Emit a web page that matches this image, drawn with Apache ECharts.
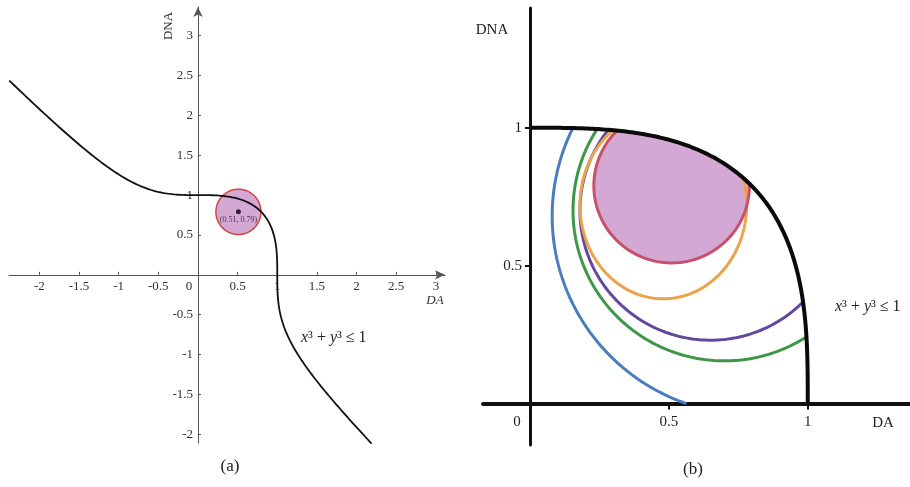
<!DOCTYPE html>
<html>
<head>
<meta charset="utf-8">
<script src="https://cdn.jsdelivr.net/npm/echarts@6/dist/echarts.min.js"></script>
<style>
  html, body { margin: 0; padding: 0; background: #fff; }
  #chart { width: 910px; height: 487px; }
</style>
</head>
<body>
<div id="chart"></div>
<script>
// ---------- data ----------
// Panel (a): boundary x^3 + y^3 = 1 drawn between these DA values, plus one disc
const curveAExtent = [-2.38, 2.19];
const discACentre = [0.51, 0.79];
const discARadius = 0.284;
const ticksAx = [-2, -1.5, -1, -0.5, 0, 0.5, 1, 1.5, 2, 2.5, 3];
const ticksAy = [-2, -1.5, -1, -0.5, 0.5, 1, 1.5, 2, 2.5, 3];

// Panel (b): first-quadrant boundary and rings kept inside the feasible region
const curveBExtent = [0, 1];
const ticksBx = [0, 0.5, 1];
const ticksBy = [0.5, 1];
const ringCentreX = [0.80, 0.70, 0.65, 0.48, 0.51];
const ringCentreY = [0.68, 0.70, 0.70, 0.72, 0.79];
const ringRadiusX = [0.72, 0.545, 0.47, 0.30, 0.28];
const ringRadiusY = [0.72, 0.545, 0.47, 0.34, 0.28];
const ringColour = ['#4a7dbd', '#3f9548', '#60499e', '#eba34c', '#c9506b'];
const filledRing = 4; // index of the shaded disc

const SERIF = '"Liberation Serif", "DejaVu Serif", serif';
const DISC_FILL = '#d4a8d4';

// ---------- geometry helpers ----------
// point of x^3 + y^3 = 1 parameterised by v = x - y
function curvePoint(v) {
  const s = Math.sqrt(4 + Math.pow(v, 6));
  const u = Math.cbrt(2 + s) + Math.cbrt(2 - s);
  return [(u + v) / 2, (u - v) / 2];
}
function curveBetween(x0, x1) {
  const v0 = x0 - Math.cbrt(1 - x0 * x0 * x0);
  const v1 = x1 - Math.cbrt(1 - x1 * x1 * x1);
  const n = 1200, pts = [];
  for (let i = 0; i <= n; i++) pts.push(curvePoint(v0 + (v1 - v0) * i / n));
  return pts;
}
function inRegion(x, y) {
  return x >= 0 && y >= 0 && x * x * x + y * y * y <= 1;
}
function ringPoints(cx, cy, rx, ry) {
  const n = 360, pts = [];
  for (let i = 0; i < n; i++) {
    const a = 2 * Math.PI * i / n;
    pts.push([cx + rx * Math.cos(a), cy + ry * Math.sin(a)]);
  }
  return pts;
}
// parts of a ring that lie inside the region, as separate runs
function ringRuns(cx, cy, rx, ry) {
  const n = 1440;
  const at = k => {
    const a = 2 * Math.PI * k / n;
    return [cx + rx * Math.cos(a), cy + ry * Math.sin(a)];
  };
  let k0 = -1;
  for (let k = 0; k < n; k++) { const p = at(k); if (!inRegion(p[0], p[1])) { k0 = k; break; } }
  if (k0 < 0) { const all = []; for (let k = 0; k <= n; k++) all.push(at(k)); return [all]; }
  const runs = []; let cur = null;
  for (let k = k0; k <= k0 + n; k++) {
    const p = at(k);
    if (inRegion(p[0], p[1])) { if (!cur) { cur = []; runs.push(cur); } cur.push(p); }
    else cur = null;
  }
  return runs;
}
// disc intersected with the region (both convex), traced radially from the centre
function clippedDisc(cx, cy, rx, ry) {
  const n = 720, pts = [];
  for (let i = 0; i < n; i++) {
    const a = 2 * Math.PI * i / n, c = rx * Math.cos(a), s = ry * Math.sin(a);
    let t = 1;
    if (!inRegion(cx + c, cy + s)) {
      let lo = 0, hi = 1;
      for (let j = 0; j < 40; j++) {
        const m = (lo + hi) / 2;
        if (inRegion(cx + m * c, cy + m * s)) lo = m; else hi = m;
      }
      t = lo;
    }
    pts.push([cx + t * c, cy + t * s]);
  }
  return pts;
}

// ---------- series ----------
const series = [];

// (a) disc with outline
const discAPoints = ringPoints(discACentre[0], discACentre[1], discARadius, discARadius);
series.push({
  type: 'custom', xAxisIndex: 0, yAxisIndex: 0, z: 1,
  data: [discACentre],
  renderItem: (params, api) => ({
    type: 'polygon',
    shape: { points: discAPoints.map(p => api.coord(p)) },
    style: { fill: DISC_FILL, stroke: '#d2463f', lineWidth: 1.5 }
  })
});
// (a) boundary curve
series.push({
  type: 'line', xAxisIndex: 0, yAxisIndex: 0, z: 2,
  data: curveBetween(curveAExtent[0], curveAExtent[1]),
  showSymbol: false, symbol: 'none', silent: true,
  lineStyle: { color: '#111', width: 1.8 }
});
// (a) centre point
series.push({
  type: 'scatter', xAxisIndex: 0, yAxisIndex: 0, z: 3,
  data: [discACentre], symbolSize: 5,
  itemStyle: { color: '#000' },
  label: {
    show: true, position: 'bottom', distance: 2,
    formatter: p => '(' + p.value[0] + ', ' + p.value[1] + ')',
    fontFamily: SERIF, fontSize: 8, color: '#222'
  }
});

// (b) shaded disc
const discBPoints = clippedDisc(ringCentreX[filledRing], ringCentreY[filledRing],
                                ringRadiusX[filledRing], ringRadiusY[filledRing]);
series.push({
  type: 'custom', xAxisIndex: 1, yAxisIndex: 1, z: 1,
  data: [[ringCentreX[filledRing], ringCentreY[filledRing]]],
  renderItem: (params, api) => ({
    type: 'polygon',
    shape: { points: discBPoints.map(p => api.coord(p)) },
    style: { fill: DISC_FILL }
  })
});
// (b) ring arcs inside the region
ringCentreX.forEach((cx, i) => {
  ringRuns(cx, ringCentreY[i], ringRadiusX[i], ringRadiusY[i]).forEach(run => {
    series.push({
      type: 'line', xAxisIndex: 1, yAxisIndex: 1, z: 3,
      data: run, showSymbol: false, symbol: 'none', silent: true,
      lineStyle: { color: ringColour[i], width: 3 }
    });
  });
});
// (b) boundary curve
series.push({
  type: 'line', xAxisIndex: 1, yAxisIndex: 1, z: 4,
  data: curveBetween(curveBExtent[0], curveBExtent[1]),
  showSymbol: false, symbol: 'none', silent: true,
  lineStyle: { color: '#0a0a0a', width: 4 }
});

// ---------- axes ----------
// grid boxes; the axes are shifted onto the zero lines with an offset
const gridA = { left: 9, top: 7, width: 436, height: 436 };
const gridB = { left: 483, top: 8, width: 427, height: 437 };
const xExtA = [-2.383, 3.115], yExtA = [-2.11, 3.36];
const xExtB = [-0.169, 1.368], yExtB = [-0.15, 1.434];
const zeroOffsetX = (g, ext) => -g.height * (0 - ext[0]) / (ext[1] - ext[0]);
const zeroOffsetY = (g, ext) => -g.width * (0 - ext[0]) / (ext[1] - ext[0]);

const labelA = { fontFamily: SERIF, fontSize: 13, color: '#333' };
const labelB = { fontFamily: SERIF, fontSize: 15, color: '#222' };

const option = {
  animation: false,
  backgroundColor: '#fff',
  grid: [
    Object.assign({ containLabel: false, outerBoundsMode: 'none' }, gridA),
    Object.assign({ containLabel: false, outerBoundsMode: 'none' }, gridB)
  ],
  xAxis: [
    {
      gridIndex: 0, type: 'value', min: xExtA[0], max: xExtA[1],
      position: 'bottom', offset: zeroOffsetX(gridA, yExtA),
      splitLine: { show: false },
      axisLine: { onZero: false, symbol: ['none', 'arrow'], symbolSize: [7, 10],
                  lineStyle: { color: '#555', width: 1 } },
      axisTick: { inside: true, length: 3, customValues: ticksAx.filter(v => v !== 0),
                  lineStyle: { color: '#555', width: 1 } },
      axisLabel: Object.assign({}, labelA, {
        customValues: ticksAx, margin: 5,
        formatter: v => v === 0 ? '{z|0}' : String(v),
        rich: { z: Object.assign({}, labelA, { padding: [0, 18, 0, 0] }) }
      })
    },
    {
      gridIndex: 1, type: 'value', min: xExtB[0], max: xExtB[1],
      position: 'bottom', offset: zeroOffsetX(gridB, yExtB),
      splitLine: { show: false },
      axisLine: { onZero: false, lineStyle: { color: '#111', width: 4 } },
      axisTick: { inside: false, length: 6, customValues: [0.5, 1],
                  lineStyle: { color: '#111', width: 2 } },
      axisLabel: Object.assign({}, labelB, {
        customValues: ticksBx, margin: 11,
        formatter: v => v === 0 ? '{z|0}' : String(v),
        rich: { z: Object.assign({}, labelB, { padding: [0, 26, 0, 0] }) }
      })
    }
  ],
  yAxis: [
    {
      gridIndex: 0, type: 'value', min: yExtA[0], max: yExtA[1],
      position: 'left', offset: zeroOffsetY(gridA, xExtA),
      splitLine: { show: false },
      axisLine: { onZero: false, symbol: ['none', 'arrow'], symbolSize: [7, 10],
                  lineStyle: { color: '#555', width: 1 } },
      axisTick: { inside: true, length: 3, customValues: ticksAy,
                  lineStyle: { color: '#555', width: 1 } },
      axisLabel: Object.assign({}, labelA, { customValues: ticksAy, margin: 5 })
    },
    {
      gridIndex: 1, type: 'value', min: yExtB[0], max: yExtB[1],
      position: 'left', offset: zeroOffsetY(gridB, xExtB),
      splitLine: { show: false },
      axisLine: { onZero: false, lineStyle: { color: '#111', width: 3 } },
      axisTick: { inside: false, length: 5, customValues: ticksBy,
                  lineStyle: { color: '#111', width: 2 } },
      axisLabel: Object.assign({}, labelB, { customValues: ticksBy, margin: 8 })
    }
  ],
  graphic: [
    { type: 'text', x: 169, y: 26, rotation: Math.PI / 2,
      style: { text: 'DNA', font: '13px ' + SERIF, fill: '#333', align: 'center', verticalAlign: 'middle' } },
    { type: 'text', x: 435, y: 301,
      style: { text: 'DA', font: 'italic 13px ' + SERIF, fill: '#333', align: 'center', verticalAlign: 'middle' } },
    { type: 'text', x: 301, y: 338,
      style: {
        text: '{i|x}{n|³ + }{i|y}{n|³ ≤ 1}',
        align: 'left', verticalAlign: 'middle',
        rich: {
          i: { fontFamily: SERIF, fontSize: 16, fontStyle: 'italic', fill: '#222' },
          n: { fontFamily: SERIF, fontSize: 16, fill: '#222' }
        }
      } },
    { type: 'text', x: 230, y: 467,
      style: { text: '(a)', font: '17px ' + SERIF, fill: '#222', align: 'center', verticalAlign: 'middle' } },

    { type: 'text', x: 492, y: 30,
      style: { text: 'DNA', font: '15px ' + SERIF, fill: '#222', align: 'center', verticalAlign: 'middle' } },
    { type: 'text', x: 883, y: 423,
      style: { text: 'DA', font: '15px ' + SERIF, fill: '#222', align: 'center', verticalAlign: 'middle' } },
    { type: 'text', x: 835, y: 307,
      style: {
        text: '{i|x}{n|³ + }{i|y}{n|³ ≤ 1}',
        align: 'left', verticalAlign: 'middle',
        rich: {
          i: { fontFamily: SERIF, fontSize: 16, fontStyle: 'italic', fill: '#222' },
          n: { fontFamily: SERIF, fontSize: 16, fill: '#222' }
        }
      } },
    { type: 'text', x: 693, y: 470,
      style: { text: '(b)', font: '17px ' + SERIF, fill: '#222', align: 'center', verticalAlign: 'middle' } }
  ],
  series: series
};

const chart = echarts.init(document.getElementById('chart'), null, { renderer: 'canvas' });
chart.setOption(option);
</script>
</body>
</html>
